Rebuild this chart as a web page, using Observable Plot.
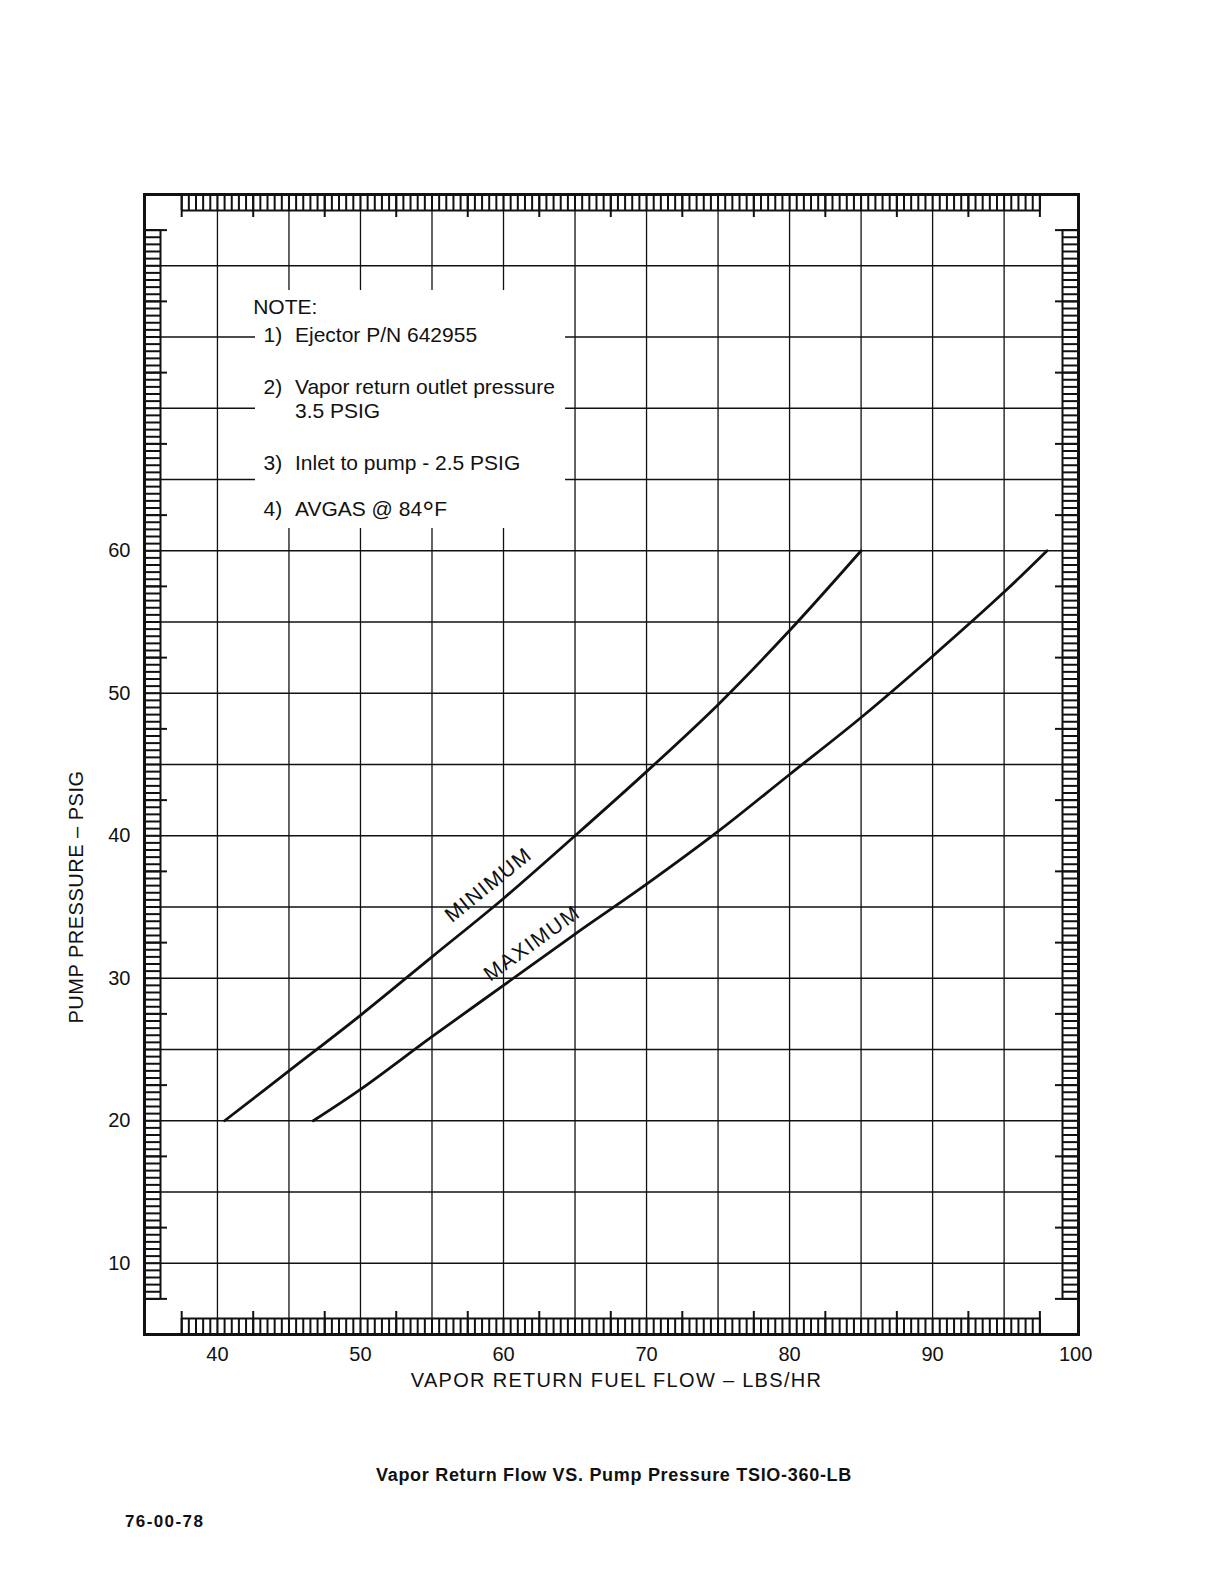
<!DOCTYPE html>
<html><head><meta charset="utf-8">
<script src="https://cdn.jsdelivr.net/npm/d3@7"></script>
<script src="https://cdn.jsdelivr.net/npm/@observablehq/plot@0.6"></script>
<style>
body{margin:0;background:#fff;width:1224px;height:1584px;position:relative;overflow:hidden;font-family:'Liberation Sans',Arial,Helvetica,sans-serif;color:#111}
#chart{position:absolute;left:0;top:0}
.cap{position:absolute;font-weight:bold;line-height:1;white-space:nowrap}
</style></head><body>
<div id="chart"></div>
<div id="caption" class="cap" style="left:0;width:1228px;text-align:center;top:1466px;font-size:18px;letter-spacing:0.7px"></div>
<div id="code" class="cap" style="left:125px;top:1513px;font-size:17px;letter-spacing:1.4px"></div>
<script>
// ---- data ----
const xTicks = [40, 50, 60, 70, 80, 90, 100];
const yTicks = [10, 20, 30, 40, 50, 60];
const gridX = [40, 45, 50, 55, 60, 65, 70, 75, 80, 85, 90, 95];
const gridY = [10, 15, 20, 25, 30, 35, 40, 45, 50, 55, 60, 65, 70, 75, 80];
const minFlow = [40.5, 45, 50, 55, 60, 65, 70, 75, 80, 85];
const minPressure = [20, 23.5, 27.4, 31.5, 35.6, 40, 44.5, 49.2, 54.4, 60];
const maxFlow = [46.7, 50, 55, 60, 65, 70, 75, 80, 85, 90, 95, 98];
const maxPressure = [20, 22.2, 25.9, 29.5, 33.1, 36.6, 40.3, 44.3, 48.3, 52.6, 57.1, 60];
const curveNames = ["MINIMUM", "MAXIMUM"];
const noteHeader = "NOTE:";
const noteNums = ["1)", "2)", "", "3)", "4)"];
const noteTexts = ["Ejector P/N 642955", "Vapor return outlet pressure", "3.5 PSIG", "Inlet to pump - 2.5 PSIG", "AVGAS @ 84°F"];
const xTitle = "VAPOR RETURN FUEL FLOW – LBS/HR";
const yTitle = "PUMP PRESSURE – PSIG";
const caption = "Vapor Return Flow VS. Pump Pressure TSIO-360-LB";
const docCode = "76-00-78";

// ---- layout ----
const W = 1224, H = 1414;
const mT = 194, mL = 144, mR = 146, mB = 80;
const xDom = [34.9, 100.2], yDom = [5, 85];
const kx = (xDom[1] - xDom[0]) / (W - mL - mR);
const ky = (yDom[1] - yDom[0]) / (H - mT - mB);
const ink = "#111";

const minData = minFlow.map((x, i) => ({x, y: minPressure[i]}));
const maxData = maxFlow.map((x, i) => ({x, y: maxPressure[i]}));

// ruler strips
const rMinorX = d3.range(0, 121).map(i => 37.5 + i * 0.5);
const rMajorX = d3.range(0, 13).map(i => 37.5 + i * 5);
const rMinorY = d3.range(0, 151).map(i => 7.5 + i * 0.5);
const rMajorY = d3.range(0, 16).map(i => 7.5 + i * 5);
const depth = 16, longD = 23;
const xL = xDom[0], xR = xDom[1], yB = yDom[0], yT = yDom[1];

const labelLayout = [
  {x: 58.95, y: 36.55, rotate: -39},
  {x: 62.0, y: 32.45, rotate: -36}
];
const curveLabelData = curveNames.map((name, i) => ({name, ...labelLayout[i]}));

const noteY = [74.63, 71.01, 69.33, 65.70, 62.45];
const noteData = noteTexts.map((t, i) => ({t, n: noteNums[i], y: noteY[i]}));

const rs = {stroke: ink, strokeWidth: 2};
const plot = Plot.plot({
  width: W, height: H,
  marginTop: mT, marginLeft: mL, marginRight: mR, marginBottom: mB,
  style: {fontFamily: "'Liberation Sans', Arial, Helvetica, sans-serif", fontSize: "20px", color: ink, background: "white"},
  x: {domain: xDom, ticks: xTicks, tickSize: 0, tickPadding: 12.5, label: null},
  y: {domain: yDom, ticks: yTicks, tickSize: 0, tickPadding: 14, label: null},
  marks: [
    Plot.ruleX(gridX, {stroke: ink, strokeWidth: 1.3}),
    Plot.ruleY(gridY, {stroke: ink, strokeWidth: 1.3}),
    // white note area
    Plot.rect([0], {x1: 42.66, x2: 64.34, y1: 61.56, y2: 78.26, fill: "white"}),
    // top ruler
    Plot.ruleX(rMinorX, {y1: yT, y2: yT - depth * ky, ...rs}),
    Plot.ruleX(rMajorX, {y1: yT, y2: yT - longD * ky, ...rs}),
    Plot.ruleY([yT - depth * ky], {x1: 37.5, x2: 97.5, ...rs}),
    // bottom ruler
    Plot.ruleX(rMinorX, {y1: yB, y2: yB + depth * ky, ...rs}),
    Plot.ruleX(rMajorX, {y1: yB, y2: yB + longD * ky, ...rs}),
    Plot.ruleY([yB + depth * ky], {x1: 37.5, x2: 97.5, ...rs}),
    // left ruler
    Plot.ruleY(rMinorY, {x1: xL, x2: xL + depth * kx, ...rs}),
    Plot.ruleY(rMajorY, {x1: xL, x2: xL + longD * kx, ...rs}),
    Plot.ruleX([xL + depth * kx], {y1: 7.5, y2: 82.5, ...rs}),
    // right ruler
    Plot.ruleY(rMinorY, {x1: xR, x2: xR - depth * kx, ...rs}),
    Plot.ruleY(rMajorY, {x1: xR, x2: xR - longD * kx, ...rs}),
    Plot.ruleX([xR - depth * kx], {y1: 7.5, y2: 82.5, ...rs}),
    // curves
    Plot.line(minData, {x: "x", y: "y", stroke: ink, strokeWidth: 2.8, curve: "catmull-rom"}),
    Plot.line(maxData, {x: "x", y: "y", stroke: ink, strokeWidth: 2.8, curve: "catmull-rom"}),
    Plot.frame({stroke: ink, strokeWidth: 3}),
    // curve labels
    Plot.text(curveLabelData, {x: "x", y: "y", text: "name", rotate: "rotate", fontSize: 21, fill: ink}),
    // notes
    Plot.text([noteHeader], {x: 42.5, y: 76.58, text: d => d, textAnchor: "start", lineAnchor: "bottom", fontSize: 21, fill: ink}),
    Plot.text(noteData, {x: 43.22, y: "y", text: "n", textAnchor: "start", lineAnchor: "bottom", fontSize: 21, fill: ink}),
    Plot.text(noteData, {x: 45.42, y: "y", text: "t", textAnchor: "start", lineAnchor: "bottom", fontSize: 21, fill: ink}),
    // axis titles
    Plot.text([yTitle], {x: xL, y: 35.7, dx: -67.5, text: d => d, rotate: -90, fontSize: 20, fill: ink}),
    Plot.text([xTitle], {frameAnchor: "bottom", dx: 5, dy: 52, text: d => d, fontSize: 20, fill: ink})
  ]
});
document.getElementById("chart").append(plot);

// letter spacing & superscript
const svg = d3.select(plot);
const spacing = {"MINIMUM": 1.5, "MAXIMUM": 1.7};
spacing[xTitle] = 1.3; spacing[yTitle] = 0.5;
svg.selectAll("text").each(function() {
  const t = this.textContent;
  if (spacing[t] != null) this.setAttribute("letter-spacing", spacing[t]);
  if (t === noteTexts[4]) {
    const sel = d3.select(this);
    sel.text("AVGAS @ 84");
    sel.append("tspan").attr("font-size", 30).attr("dy", 6.5).text("°");
    sel.append("tspan").attr("dy", -6.5).text("F");
  }
});
document.getElementById("caption").textContent = caption;
document.getElementById("code").textContent = docCode;
</script>
</body></html>
